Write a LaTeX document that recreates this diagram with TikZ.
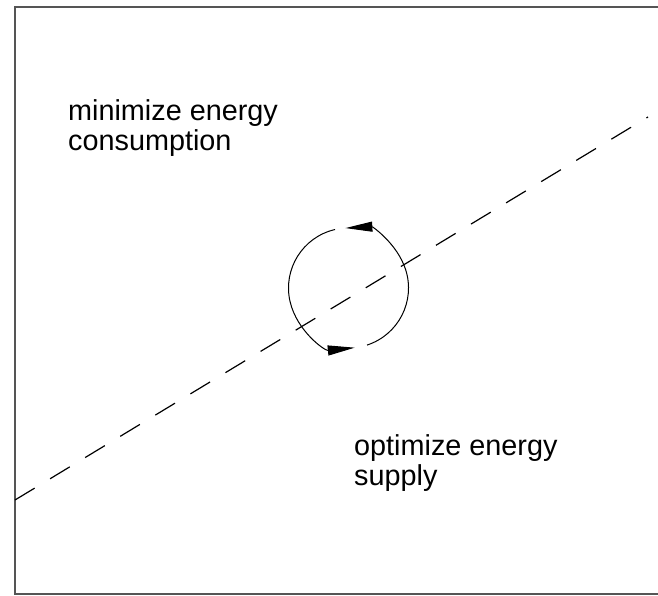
\documentclass[tikz,border=0pt]{standalone}
\usepackage{fontspec}
\setmainfont{Liberation Sans}
\usetikzlibrary{arrows.meta}
\definecolor{frame}{RGB}{85, 85, 85}

\begin{document}
\begin{tikzpicture}[x=1pt, y=1pt,
    lbl/.style={anchor=base west, align=left, inner sep=0pt, font=\fontsize{28.8}{30}\selectfont},
    cyc/.style={line width=1pt, -{Triangle[length=27pt, width=10pt]}}]
            \useasboundingbox (0,0) rectangle (658,596);
            \draw[frame, line width=2pt] (662,589) -- (15,589) -- (15,2) -- (662,2);
            \coordinate (west) at (15,96);
            \coordinate (east) at (648,479);
            \draw[line width=1.2pt, dash pattern=on 23pt off 18pt] (west) -- (east);
            \coordinate (ctr) at (348.5,308);
            \draw[cyc] ([shift={(-72:60)}]ctr) arc[start angle=-72, end angle=93, radius=60];
            \draw[cyc] ([shift={(103:60)}]ctr) arc[start angle=103, end angle=276, radius=60];
            \node[lbl] (consume) at (68,445) {minimize energy\\consumption};
            \node[lbl] (supply) at (354,110) {optimize energy\\supply};
        \end{tikzpicture}
\end{document}
